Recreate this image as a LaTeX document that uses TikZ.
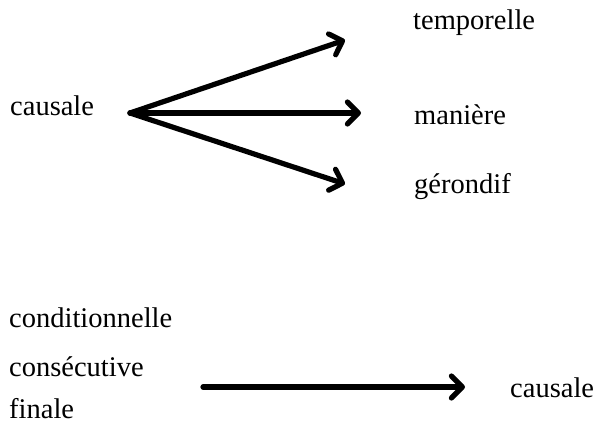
\documentclass[tikz,border=0pt]{standalone}
\usepackage{fontspec}
\setmainfont{Liberation Serif}
\usetikzlibrary{arrows.meta,positioning}

\begin{document}
\begin{tikzpicture}[
    x=1pt,y=-1pt,
    word/.style={anchor=base west,inner sep=0pt,font=\fontsize{28.5}{34}\selectfont},
    arr/.style={-{Straight Barb[round,length=11pt,width=22pt]},line width=5.2pt,line cap=round}
]
\useasboundingbox (0,0) rectangle (597,434);

% upper group
\node[word] (caus1) at (10,115) {causale};
\node[word] (temp) at (413,29) {temporelle};
\node[word] (man) at (414,124) {manière};
\node[word] (ger) at (414,193) {gérondif};

\coordinate (hub) at (130,113);
\coordinate (tipT) at (345,40);
\coordinate (tipM) at (361,113);
\coordinate (tipG) at (345,184);
\draw[arr] (hub) -- (tipT);
\draw[arr] (hub) -- (tipM);
\draw[arr] (hub) -- (tipG);

% lower group
\node[word] (cond) at (9,327) {conditionnelle};
\node[word] (cons) at (9,376) {consécutive};
\node[word] (fin) at (9,418) {finale};
\node[word] (caus2) at (510,397) {causale};

\coordinate (from) at (203,387);
\coordinate (to) at (465,387);
\draw[arr] (from) -- (to);
\end{tikzpicture}
\end{document}
